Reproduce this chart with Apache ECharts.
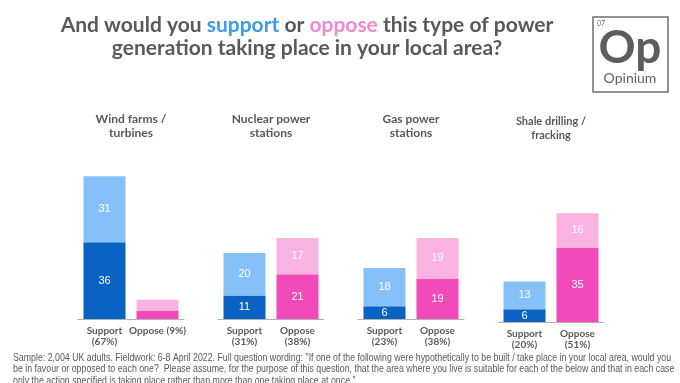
<!DOCTYPE html>
<html>
<head>
<meta charset="utf-8">
<script src="https://cdn.jsdelivr.net/npm/echarts@6/dist/echarts.min.js"></script>
<style>html,body{margin:0;padding:0;background:#fff}#c{width:680px;height:383px}</style>
</head>
<body>
<div id="c"></div>
<script>
const groupTitles = ['Wind farms /\nturbines', 'Nuclear power\nstations', 'Gas power\nstations', 'Shale drilling /\nfracking'];
const supportLabels = ['Support\n(67%)', 'Support\n(31%)', 'Support\n(23%)', 'Support\n(20%)'];
const opposeLabels = ['Oppose (9%)', 'Oppose\n(38%)', 'Oppose\n(38%)', 'Oppose\n(51%)'];
const supportStrong = [36, 11, 6, 6];
const supportWeak = [31, 20, 18, 13];
const opposeStrong = [4, 21, 19, 35];
const opposeWeak = [5, 17, 19, 16];

const C = {
  darkBlue: '#0a62c2', lightBlue: '#86c0f8',
  darkPink: '#f24bb9', lightPink: '#f8b3e1',
  grey: '#595959'
};
const gridLeft = [78, 218, 358, 498];
const gridTop = [106, 106, 106, 109];
const titleY = [112, 112, 112, 114];
const titleSize = [12, 12, 12, 11];
const FONT = 'Lato, "Open Sans", sans-serif';

const grids = [], xAxes = [], yAxes = [], series = [], graphics = [];
for (let g = 0; g < 4; g++) {
  grids.push({ left: gridLeft[g], top: gridTop[g], width: 106, height: 213 });
  xAxes.push({
    type: 'category', gridIndex: g, data: [supportLabels[g], opposeLabels[g]],
    axisLine: { lineStyle: { color: '#b0b0b0', width: 1 } }, axisTick: { show: false },
    axisLabel: { color: C.grey, fontFamily: FONT, fontWeight: 'bold', fontSize: 10, margin: 6, lineHeight: 11, interval: 0 }
  });
  yAxes.push({ type: 'value', gridIndex: g, min: 0, max: 100, show: false, splitLine: { show: false } });
  const lab = {
    show: true, position: 'inside', color: '#fff', fontFamily: 'Arial, "Liberation Sans", sans-serif', fontSize: 11,
    formatter: p => (p.value >= 6 ? String(p.value) : '')
  };
  series.push({
    type: 'bar', xAxisIndex: g, yAxisIndex: g, stack: 's' + g, barWidth: 42,
    data: [
      { value: supportStrong[g], itemStyle: { color: C.darkBlue } },
      { value: opposeStrong[g], itemStyle: { color: C.darkPink } }
    ],
    label: lab, silent: true
  });
  series.push({
    type: 'bar', xAxisIndex: g, yAxisIndex: g, stack: 's' + g, barWidth: 42,
    data: [
      { value: supportWeak[g], itemStyle: { color: C.lightBlue } },
      { value: opposeWeak[g], itemStyle: { color: C.lightPink } }
    ],
    label: lab, silent: true
  });
  graphics.push({
    type: 'text', x: gridLeft[g] + 53, y: titleY[g],
    style: { text: groupTitles[g], fill: C.grey, font: 'bold ' + titleSize[g] + 'px ' + FONT, textAlign: 'center', lineHeight: 14 }
  });
}

graphics.push({
  type: 'text', x: 307, y: 14,
  style: {
    text: '{a|And would you }{s|support}{a| or }{o|oppose}{a| this type of power}\n{a|generation taking place in your local area?}',
    textAlign: 'center',
    rich: {
      a: { fill: C.grey, fontFamily: FONT, fontWeight: 'bold', fontSize: 21, lineHeight: 23 },
      s: { fill: '#3d9be9', fontFamily: FONT, fontWeight: 'bold', fontSize: 21, lineHeight: 23 },
      o: { fill: '#f08bd0', fontFamily: FONT, fontWeight: 'bold', fontSize: 21, lineHeight: 23 }
    }
  }
});
// Logo
graphics.push({ type: 'rect', shape: { x: 593, y: 17, width: 75, height: 75 }, style: { fill: '#fff', stroke: '#6b6f6b', lineWidth: 1.5 } });
graphics.push({ type: 'text', x: 597, y: 20, style: { text: '07', fill: '#5b5f5b', font: '7px ' + FONT } });
graphics.push({ type: 'text', x: 630, y: 25, style: { text: 'Op', fill: '#5b5f5b', font: 'bold 46px ' + FONT, textAlign: 'center' } });
graphics.push({ type: 'text', x: 630, y: 71, style: { text: 'Opinium', fill: '#5b5f5b', font: '14px ' + FONT, textAlign: 'center' } });
// Footnote
graphics.push({
  type: 'text', x: 13, y: 352, scaleX: 0.88,
  style: {
    text: 'Sample: 2,004 UK adults. Fieldwork: 6-8 April 2022. Full question wording: "If one of the following were hypothetically to be built / take place in your local area, would you\nbe in favour or opposed to each one?  Please assume, for the purpose of this question, that the area where you live is suitable for each of the below and that in each case\nonly the action specified is taking place rather than more than one taking place at once."',
    fill: C.grey, font: '10px "Liberation Sans", Arial, sans-serif', lineHeight: 11.5
  }
});

const chart = echarts.init(document.getElementById('c'), null, { renderer: 'canvas' });
chart.setOption({
  animation: false,
  grid: grids, xAxis: xAxes, yAxis: yAxes, series: series, graphic: graphics
});
</script>
</body>
</html>
